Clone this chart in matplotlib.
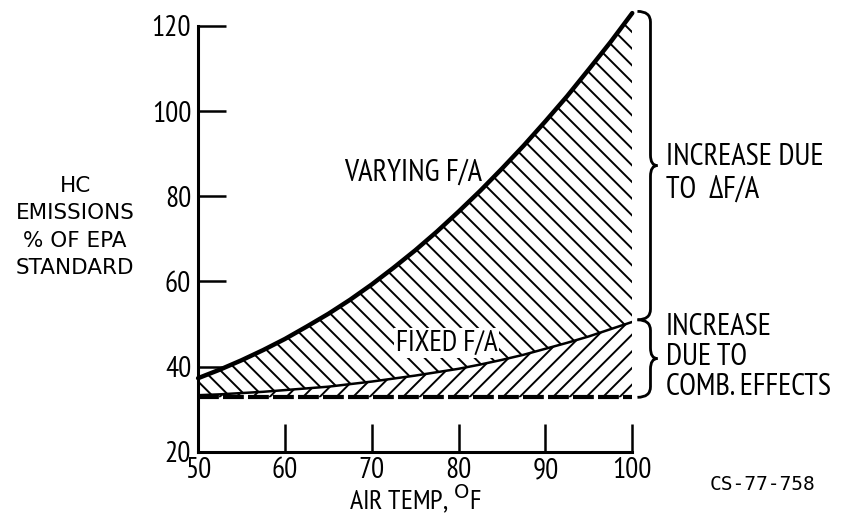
import numpy as np
import matplotlib.pyplot as plt
from matplotlib.path import Path
from matplotlib.patches import PathPatch

# Dati
temp = [50, 52.5, 55, 57.5, 60, 62.5, 65, 67.5, 70, 72.5, 75, 77.5, 80,
        82.5, 85, 87.5, 90, 92.5, 95, 97.5, 100]
varying = [37.3, 39.3, 41.5, 43.9, 46.5, 49.4, 52.4, 55.7, 59.3, 63.2, 67.3, 71.7, 76.4,
           81.3, 86.5, 91.9, 97.6, 103.5, 109.8, 116.2, 123.0]
fixed = [33.3, 33.5, 33.8, 34.1, 34.5, 34.9, 35.3, 35.9, 36.5, 37.2, 37.9, 38.7, 39.5,
         40.5, 41.6, 42.8, 44.2, 45.6, 47.1, 48.8, 50.5]
base = [32.8] * len(temp)

xticks = [50, 60, 70, 80, 90, 100]
yticks = [20, 40, 60, 80, 100, 120]

FONT = ['PT Sans Narrow', 'DejaVu Sans']
plt.rcParams['font.family'] = FONT
plt.rcParams['hatch.linewidth'] = 1.4


def brace(ax, x0, xv, xt, ytop, ybot, r):
    # parentesi graffa verticale in coordinate dati
    ymid = (ytop + ybot) / 2
    verts = [(x0, ytop), (xv, ytop), (xv, ytop - r),
             (xv, ymid + r),
             (xv, ymid), (xt, ymid),
             (xv, ymid), (xv, ymid - r),
             (xv, ybot + r),
             (xv, ybot), (x0, ybot)]
    codes = [Path.MOVETO, Path.CURVE3, Path.CURVE3,
             Path.LINETO,
             Path.CURVE3, Path.CURVE3,
             Path.CURVE3, Path.CURVE3,
             Path.LINETO,
             Path.CURVE3, Path.CURVE3]
    ax.add_patch(PathPatch(Path(verts, codes), fill=False, lw=2, color='black', clip_on=False))


fig = plt.figure(figsize=(8.43, 5.17), dpi=100)
ax = fig.add_axes([0.235, 0.126, 0.515, 0.852])

ax.fill_between(temp, fixed, varying, facecolor='none', edgecolor='black', hatch='\\\\', lw=0)
ax.fill_between(temp, base, fixed, facecolor='none', edgecolor='black', hatch='//', lw=0)
ax.plot(temp, varying, color='black', lw=3.2, solid_capstyle='round', solid_joinstyle='round',
        clip_on=False)
ax.plot(temp, fixed, color='black', lw=1.8)
ax.plot(temp, base, color='black', lw=3, ls=(0, (5, 1)))

ax.set_xlim(50, 100)
ax.set_ylim(20, 123.4)
ax.set_xticks(xticks)
ax.set_yticks(yticks)
ax.tick_params(direction='in', length=20, width=1.8, labelsize=21)
ax.tick_params(axis='x', pad=4)
ax.tick_params(axis='y', pad=5)
for s in ['top', 'right']:
    ax.spines[s].set_visible(False)
for s in ['left', 'bottom']:
    ax.spines[s].set_linewidth(2.2)
ax.spines['left'].set_bounds(20, 120)

ax.text(74.7, 85.5, 'VARYING F/A', fontsize=22, ha='center', va='center')
ax.text(78.6, 45.5, 'FIXED F/A', fontsize=21, ha='center', va='center',
        bbox=dict(facecolor='white', edgecolor='none', pad=1))

brace(ax, 100.6, 102.1, 102.9, 123.4, 51.0, 2.5)
brace(ax, 100.6, 102.1, 102.9, 51.0, 32.8, 2.5)

ax.text(103.9, 85.4, 'INCREASE DUE\nTO  \u0394F/A', fontsize=22, ha='left', va='center',
        linespacing=1.18, clip_on=False)
ax.text(103.9, 42.2, 'INCREASE\nDUE TO\nCOMB. EFFECTS', fontsize=22, ha='left', va='center',
        linespacing=1.09, clip_on=False)

fig.text(0.089, 0.561, 'HC\nEMISSIONS\n% OF EPA\nSTANDARD', fontsize=15.5, ha='center', va='center',
         linespacing=1.45, family='DejaVu Sans')
ax.set_xlabel('AIR TEMP, $^{\\rm O}$F', fontsize=20, va='bottom')
ax.xaxis.set_label_coords(0.5, -0.146)
fig.text(0.904, 0.062, 'CS-77-758', fontsize=14, ha='center', va='center', family='DejaVu Sans Mono')

fig.savefig('out.png', dpi=100)
